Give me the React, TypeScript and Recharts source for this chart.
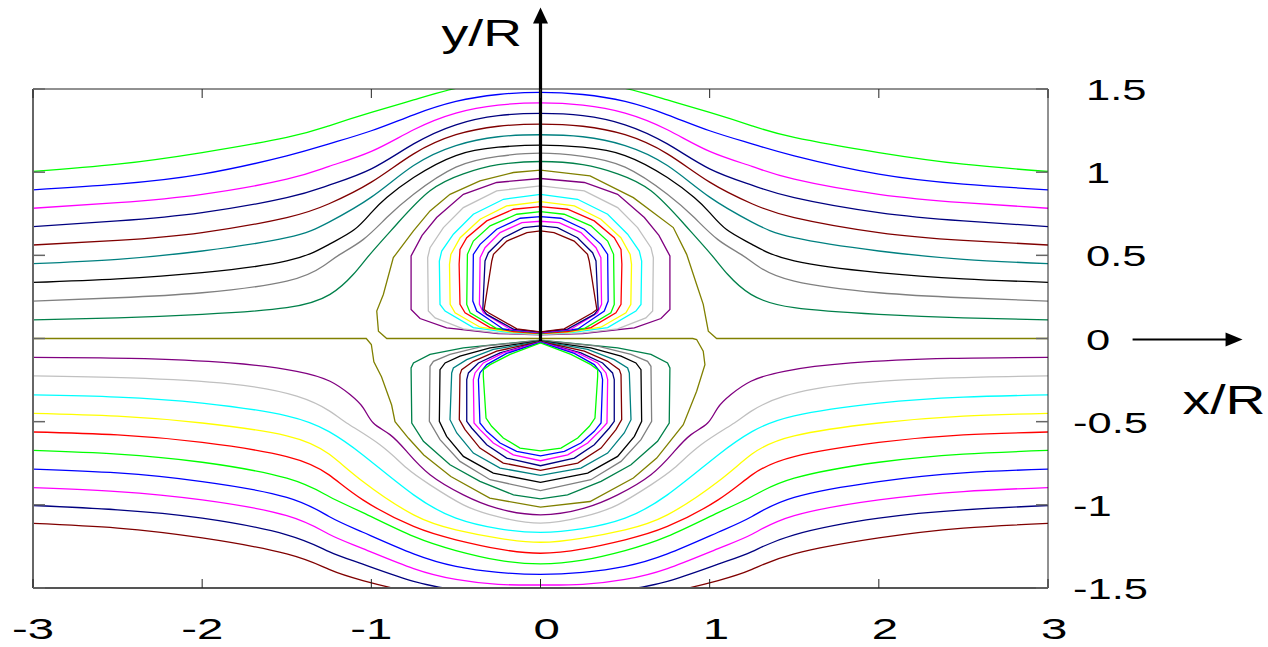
import { LineChart, Line, XAxis, YAxis, ReferenceLine } from 'recharts'

const xTicks = [-3, -2, -1, 0, 1, 2, 3]
const yTicks = [-1.5, -1, -0.5, 0, 0.5, 1, 1.5]

// streamlines above the axis that run right through (x, y)
const upGreen = [[-3,1.004],[-2.5,1.048],[-2,1.118],[-1.5,1.209],[-1.25,1.279],[-1,1.359],[-0.75,1.434],[-0.5,1.504],[-0.25,1.54],[0,1.555],[0.25,1.54],[0.5,1.504],[0.75,1.434],[1,1.359],[1.25,1.279],[1.5,1.209],[2,1.118],[2.5,1.048],[3,1.004]]
const upBlue = [[-3,0.894],[-2.5,0.928],[-2,0.988],[-1.5,1.098],[-1.25,1.17],[-1,1.249],[-0.75,1.345],[-0.5,1.425],[-0.25,1.467],[0,1.48],[0.25,1.467],[0.5,1.425],[0.75,1.345],[1,1.249],[1.25,1.17],[1.5,1.098],[2,0.988],[2.5,0.928],[3,0.894]]
const upMagenta = [[-3,0.783],[-2.5,0.817],[-2,0.867],[-1.5,0.958],[-1.25,1.035],[-1,1.125],[-0.75,1.255],[-0.5,1.355],[-0.25,1.403],[0,1.416],[0.25,1.403],[0.5,1.355],[0.75,1.255],[1,1.125],[1.25,1.035],[1.5,0.958],[2,0.867],[2.5,0.817],[3,0.783]]
const upNavy = [[-3,0.673],[-2.5,0.707],[-2,0.757],[-1.5,0.847],[-1.25,0.922],[-1,1.02],[-0.75,1.17],[-0.5,1.285],[-0.25,1.34],[0,1.353],[0.25,1.34],[0.5,1.285],[0.75,1.17],[1,1.02],[1.25,0.922],[1.5,0.847],[2,0.757],[2.5,0.707],[3,0.673]]
const upBrown = [[-3,0.562],[-2.5,0.59],[-2,0.637],[-1.5,0.727],[-1.25,0.81],[-1,0.94],[-0.75,1.11],[-0.5,1.225],[-0.25,1.276],[0,1.289],[0.25,1.276],[0.5,1.225],[0.75,1.11],[1,0.94],[1.25,0.81],[1.5,0.727],[2,0.637],[2.5,0.59],[3,0.562]]
const upTeal = [[-3,0.45],[-2.5,0.476],[-2,0.526],[-1.5,0.606],[-1.25,0.7],[-1,0.85],[-0.75,1.04],[-0.5,1.16],[-0.25,1.213],[0,1.225],[0.25,1.213],[0.5,1.16],[0.75,1.04],[1,0.85],[1.25,0.7],[1.5,0.606],[2,0.526],[2.5,0.476],[3,0.45]]
const upBlack = [[-3,0.337],[-2.5,0.359],[-2,0.396],[-1.5,0.466],[-1.25,0.566],[-1.1,0.655],[-1,0.757],[-0.909,0.847],[-0.75,0.968],[-0.5,1.1],[-0.25,1.15],[0,1.163],[0.25,1.15],[0.5,1.1],[0.75,0.968],[0.909,0.847],[1,0.757],[1.1,0.655],[1.25,0.566],[1.5,0.466],[2,0.396],[2.5,0.359],[3,0.337]]
const upGray = [[-3,0.225],[-2.5,0.245],[-2,0.275],[-1.5,0.345],[-1.284,0.436],[-1.185,0.506],[-1.047,0.596],[-0.909,0.727],[-0.75,0.867],[-0.5,1.03],[-0.25,1.095],[0,1.114],[0.25,1.095],[0.5,1.03],[0.75,0.867],[0.909,0.727],[1.047,0.596],[1.185,0.506],[1.284,0.436],[1.5,0.345],[2,0.275],[2.5,0.245],[3,0.225]]
const upSea = [[-3,0.112],[-2.5,0.124],[-2,0.145],[-1.5,0.185],[-1.244,0.265],[-1.106,0.386],[-1.008,0.506],[-0.85,0.687],[-0.653,0.888],[-0.456,0.99],[-0.25,1.045],[0,1.064],[0.25,1.045],[0.456,0.99],[0.653,0.888],[0.85,0.687],[1.008,0.506],[1.106,0.386],[1.244,0.265],[1.5,0.185],[2,0.145],[2.5,0.124],[3,0.112]]

// the zero streamline: axis, lower ring, back along axis, upper ring, axis
const zeroLine = [[-3,0],[-1.03,0],[-1,-0.036],[-0.985,-0.14],[-0.94,-0.23],[-0.88,-0.4],[-0.86,-0.5],[-0.78,-0.6],[-0.69,-0.7],[-0.53,-0.83],[-0.3,-0.96],[0,-1.014],[0.293,-0.98],[0.549,-0.839],[0.687,-0.719],[0.844,-0.518],[0.923,-0.317],[0.972,-0.157],[0.962,-0.076],[0.923,-0.006],[0.9,0],[0,0],[-0.909,0],[-0.958,0.044],[-0.968,0.165],[-0.929,0.265],[-0.87,0.486],[-0.751,0.647],[-0.653,0.767],[-0.535,0.867],[-0.358,0.948],[-0.16,0.998],[0,1.012],[0.293,0.978],[0.549,0.847],[0.785,0.667],[0.864,0.506],[0.923,0.325],[0.962,0.205],[0.992,0.044],[1.041,0],[3,0]]

// streamlines below the axis that run right through
const loPurple = [[-3,-0.114],[-2.426,-0.12],[-1.835,-0.147],[-1.441,-0.197],[-1.244,-0.257],[-1.126,-0.337],[-1.047,-0.418],[-0.988,-0.508],[-0.89,-0.578],[-0.791,-0.679],[-0.653,-0.819],[-0.456,-0.94],[-0.259,-1.02],[0,-1.06],[0.259,-1.02],[0.456,-0.94],[0.653,-0.819],[0.791,-0.679],[0.89,-0.578],[0.988,-0.508],[1.047,-0.418],[1.126,-0.337],[1.244,-0.257],[1.441,-0.197],[1.835,-0.147],[2.426,-0.12],[3,-0.114]]
const loSilver = [[-3,-0.225],[-2.426,-0.237],[-1.835,-0.273],[-1.441,-0.347],[-1.244,-0.438],[-1.146,-0.508],[-0.949,-0.639],[-0.791,-0.779],[-0.653,-0.88],[-0.456,-1.0],[-0.259,-1.07],[0,-1.11],[0.259,-1.07],[0.456,-1.0],[0.653,-0.88],[0.791,-0.779],[0.949,-0.639],[1.146,-0.508],[1.244,-0.438],[1.441,-0.347],[1.835,-0.273],[2.426,-0.237],[3,-0.225]]
const loCyan = [[-3,-0.339],[-2.5,-0.352],[-2,-0.388],[-1.5,-0.465],[-1.25,-0.56],[-1.05,-0.7],[-0.75,-0.94],[-0.5,-1.08],[-0.25,-1.143],[0,-1.165],[0.25,-1.143],[0.5,-1.08],[0.75,-0.94],[1.05,-0.7],[1.25,-0.56],[1.5,-0.465],[2,-0.388],[2.5,-0.352],[3,-0.339]]
const loYellow = [[-3,-0.45],[-2.5,-0.467],[-2,-0.508],[-1.5,-0.585],[-1.25,-0.695],[-1.05,-0.86],[-0.75,-1.06],[-0.5,-1.15],[-0.25,-1.2],[0,-1.225],[0.25,-1.2],[0.5,-1.15],[0.75,-1.06],[1.05,-0.86],[1.25,-0.695],[1.5,-0.585],[2,-0.508],[2.5,-0.467],[3,-0.45]]
const loRed = [[-3,-0.562],[-2.5,-0.58],[-2,-0.625],[-1.5,-0.71],[-1.25,-0.82],[-1.05,-0.97],[-0.75,-1.13],[-0.5,-1.21],[-0.25,-1.265],[0,-1.291],[0.25,-1.265],[0.5,-1.21],[0.75,-1.13],[1.05,-0.97],[1.25,-0.82],[1.5,-0.71],[2,-0.625],[2.5,-0.58],[3,-0.562]]
const loGreen = [[-3,-0.673],[-2.5,-0.695],[-2,-0.744],[-1.5,-0.84],[-1.25,-0.95],[-1.05,-1.047],[-0.75,-1.19],[-0.5,-1.275],[-0.25,-1.333],[0,-1.355],[0.25,-1.333],[0.5,-1.275],[0.75,-1.19],[1.05,-1.047],[1.25,-0.95],[1.5,-0.84],[2,-0.744],[2.5,-0.695],[3,-0.673]]
const loBlue = [[-3,-0.785],[-2.5,-0.808],[-2,-0.86],[-1.5,-0.955],[-1.25,-1.07],[-1.05,-1.165],[-0.75,-1.295],[-0.5,-1.37],[-0.25,-1.406],[0,-1.418],[0.25,-1.406],[0.5,-1.37],[0.75,-1.295],[1.05,-1.165],[1.25,-1.07],[1.5,-0.955],[2,-0.86],[2.5,-0.808],[3,-0.785]]
const loMagenta = [[-3,-0.896],[-2.5,-0.92],[-2,-0.97],[-1.5,-1.065],[-1.25,-1.177],[-1.05,-1.263],[-0.75,-1.383],[-0.5,-1.448],[-0.25,-1.478],[0,-1.482],[0.25,-1.478],[0.5,-1.448],[0.75,-1.383],[1.05,-1.263],[1.25,-1.177],[1.5,-1.065],[2,-0.97],[2.5,-0.92],[3,-0.896]]
const loNavy = [[-3,-1.004],[-2.5,-1.03],[-2,-1.08],[-1.5,-1.18],[-1.25,-1.281],[-1.05,-1.357],[-0.75,-1.46],[-0.5,-1.51],[-0.25,-1.54],[0,-1.55],[0.25,-1.54],[0.5,-1.51],[0.75,-1.46],[1.05,-1.357],[1.25,-1.281],[1.5,-1.18],[2,-1.08],[2.5,-1.03],[3,-1.004]]
const loBrown = [[-3,-1.112],[-2.5,-1.14],[-2,-1.199],[-1.5,-1.295],[-1.25,-1.388],[-1.05,-1.455],[-0.75,-1.53],[-0.5,-1.58],[-0.25,-1.61],[0,-1.62],[0.25,-1.61],[0.5,-1.58],[0.75,-1.53],[1.05,-1.455],[1.25,-1.388],[1.5,-1.295],[2,-1.199],[2.5,-1.14],[3,-1.112]]

// closed streamlines of the upper cell, outer to inner
const ringPurple = [[0,0.022],[-0.25,0.03],[-0.555,0.064],[-0.712,0.12],[-0.765,0.175],[-0.765,0.496],[-0.7,0.62],[-0.614,0.727],[-0.456,0.867],[-0.259,0.938],[0,0.962],[0.259,0.938],[0.456,0.867],[0.614,0.727],[0.7,0.62],[0.765,0.496],[0.765,0.175],[0.712,0.12],[0.555,0.064],[0.25,0.03],[0,0.022]]
const ringSilver = [[0,0.024],[-0.25,0.034],[-0.456,0.058],[-0.623,0.124],[-0.663,0.165],[-0.667,0.486],[-0.653,0.546],[-0.574,0.667],[-0.456,0.787],[-0.259,0.888],[0,0.918],[0.259,0.888],[0.456,0.787],[0.574,0.667],[0.653,0.546],[0.667,0.486],[0.663,0.165],[0.623,0.124],[0.456,0.058],[0.25,0.034],[0,0.024]]
const ringCyan = [[0,0.026],[-0.2,0.038],[-0.397,0.066],[-0.564,0.165],[-0.594,0.205],[-0.598,0.466],[-0.584,0.526],[-0.515,0.627],[-0.397,0.747],[-0.219,0.837],[0,0.867],[0.219,0.837],[0.397,0.747],[0.515,0.627],[0.584,0.526],[0.598,0.466],[0.594,0.205],[0.564,0.165],[0.397,0.066],[0.2,0.038],[0,0.026]]
const ringYellow = [[0,0.028],[-0.18,0.04],[-0.357,0.068],[-0.505,0.155],[-0.534,0.205],[-0.538,0.446],[-0.53,0.506],[-0.475,0.606],[-0.357,0.717],[-0.2,0.797],[0,0.823],[0.2,0.797],[0.357,0.717],[0.475,0.606],[0.53,0.506],[0.538,0.446],[0.534,0.205],[0.505,0.155],[0.357,0.068],[0.18,0.04],[0,0.028]]
const ringRed = [[0,0.03],[-0.16,0.042],[-0.298,0.066],[-0.446,0.155],[-0.476,0.205],[-0.481,0.446],[-0.476,0.536],[-0.436,0.606],[-0.318,0.707],[-0.16,0.777],[0,0.793],[0.16,0.777],[0.318,0.707],[0.436,0.606],[0.476,0.536],[0.481,0.446],[0.476,0.205],[0.446,0.155],[0.298,0.066],[0.16,0.042],[0,0.03]]
const ringGreen = [[0,0.032],[-0.259,0.06],[-0.416,0.155],[-0.436,0.205],[-0.432,0.506],[-0.397,0.586],[-0.298,0.677],[-0.14,0.747],[0,0.763],[0.14,0.747],[0.298,0.677],[0.397,0.586],[0.432,0.506],[0.436,0.205],[0.416,0.155],[0.259,0.06],[0,0.032]]
const ringBlue = [[0,0.034],[-0.219,0.056],[-0.377,0.165],[-0.4,0.225],[-0.397,0.506],[-0.357,0.566],[-0.259,0.657],[-0.12,0.723],[0,0.733],[0.12,0.723],[0.259,0.657],[0.357,0.566],[0.397,0.506],[0.4,0.225],[0.377,0.165],[0.219,0.056],[0,0.034]]
const ringMagenta = [[0,0.036],[-0.18,0.056],[-0.337,0.155],[-0.361,0.205],[-0.357,0.486],[-0.328,0.546],[-0.239,0.637],[-0.11,0.697],[0,0.705],[0.11,0.697],[0.239,0.637],[0.328,0.546],[0.357,0.486],[0.361,0.205],[0.337,0.155],[0.18,0.056],[0,0.036]]
const ringNavy = [[0,0.038],[-0.16,0.056],[-0.318,0.145],[-0.341,0.175],[-0.328,0.466],[-0.308,0.516],[-0.219,0.606],[-0.1,0.667],[0,0.677],[0.1,0.667],[0.219,0.606],[0.308,0.516],[0.328,0.466],[0.341,0.175],[0.318,0.145],[0.16,0.056],[0,0.038]]
const ringBrown = [[0,0.04],[-0.14,0.058],[-0.308,0.155],[-0.333,0.175],[-0.288,0.466],[-0.278,0.506],[-0.199,0.586],[-0.08,0.637],[0,0.647],[0.08,0.637],[0.199,0.586],[0.278,0.506],[0.288,0.466],[0.333,0.175],[0.308,0.155],[0.14,0.058],[0,0.04]]

// closed streamlines of the lower cell, outer to inner
const cellSea = [[0,-0.01],[-0.456,-0.056],[-0.653,-0.096],[-0.751,-0.147],[-0.765,-0.177],[-0.761,-0.508],[-0.692,-0.618],[-0.535,-0.759],[-0.358,-0.859],[-0.16,-0.94],[0,-0.964],[0.16,-0.94],[0.358,-0.859],[0.535,-0.759],[0.692,-0.618],[0.761,-0.508],[0.765,-0.177],[0.751,-0.147],[0.653,-0.096],[0.456,-0.056],[0,-0.01]]
const cellGray = [[0,-0.012],[-0.338,-0.046],[-0.535,-0.096],[-0.633,-0.137],[-0.653,-0.167],[-0.657,-0.498],[-0.594,-0.608],[-0.476,-0.739],[-0.298,-0.849],[0,-0.914],[0.298,-0.849],[0.476,-0.739],[0.594,-0.608],[0.657,-0.498],[0.653,-0.167],[0.633,-0.137],[0.535,-0.096],[0.338,-0.046],[0,-0.012]]
const cellBlack = [[0,-0.014],[-0.298,-0.056],[-0.476,-0.106],[-0.564,-0.147],[-0.594,-0.187],[-0.598,-0.498],[-0.555,-0.588],[-0.456,-0.709],[-0.279,-0.809],[0,-0.865],[0.279,-0.809],[0.456,-0.709],[0.555,-0.588],[0.598,-0.498],[0.594,-0.187],[0.564,-0.147],[0.476,-0.106],[0.298,-0.056],[0,-0.014]]
const cellTeal = [[0,-0.016],[-0.279,-0.066],[-0.436,-0.127],[-0.515,-0.177],[-0.525,-0.207],[-0.535,-0.488],[-0.495,-0.568],[-0.397,-0.689],[-0.239,-0.779],[0,-0.823],[0.239,-0.779],[0.397,-0.689],[0.495,-0.568],[0.535,-0.488],[0.525,-0.207],[0.515,-0.177],[0.436,-0.127],[0.279,-0.066],[0,-0.016]]
const cellBrown = [[0,-0.018],[-0.259,-0.076],[-0.397,-0.137],[-0.466,-0.187],[-0.476,-0.217],[-0.48,-0.488],[-0.446,-0.548],[-0.358,-0.659],[-0.22,-0.749],[0,-0.793],[0.22,-0.749],[0.358,-0.659],[0.446,-0.548],[0.48,-0.488],[0.476,-0.217],[0.466,-0.187],[0.397,-0.137],[0.259,-0.076],[0,-0.018]]
const cellNavy = [[0,-0.02],[-0.239,-0.086],[-0.367,-0.147],[-0.426,-0.207],[-0.436,-0.247],[-0.436,-0.498],[-0.407,-0.538],[-0.318,-0.639],[-0.2,-0.719],[0,-0.765],[0.2,-0.719],[0.318,-0.639],[0.407,-0.538],[0.436,-0.498],[0.436,-0.247],[0.426,-0.207],[0.367,-0.147],[0.239,-0.086],[0,-0.02]]
const cellMagenta = [[0,-0.022],[-0.22,-0.086],[-0.338,-0.147],[-0.387,-0.207],[-0.397,-0.247],[-0.393,-0.508],[-0.358,-0.548],[-0.279,-0.628],[-0.161,-0.699],[0,-0.735],[0.161,-0.699],[0.279,-0.628],[0.358,-0.548],[0.393,-0.508],[0.397,-0.247],[0.387,-0.207],[0.338,-0.147],[0.22,-0.086],[0,-0.022]]
const cellBlue = [[0,-0.024],[-0.2,-0.09],[-0.318,-0.157],[-0.358,-0.207],[-0.367,-0.247],[-0.358,-0.508],[-0.318,-0.558],[-0.239,-0.628],[-0.141,-0.679],[0,-0.705],[0.141,-0.679],[0.239,-0.628],[0.318,-0.558],[0.358,-0.508],[0.367,-0.247],[0.358,-0.207],[0.318,-0.157],[0.2,-0.09],[0,-0.024]]
const cellGreen = [[0,-0.026],[-0.18,-0.096],[-0.298,-0.157],[-0.338,-0.187],[-0.338,-0.227],[-0.322,-0.478],[-0.289,-0.528],[-0.22,-0.598],[-0.121,-0.659],[0,-0.675],[0.121,-0.659],[0.22,-0.598],[0.289,-0.528],[0.322,-0.478],[0.338,-0.227],[0.338,-0.187],[0.298,-0.157],[0.18,-0.096],[0,-0.026]]

const GREEN = '#00ff00', BLUE = '#0000ff', MAGENTA = '#ff00ff', NAVY = '#000080', BROWN = '#800000'
const TEAL = '#008080', BLACK = '#000000', GRAY = '#808080', SEA = '#00804a', OLIVE = '#808000'
const PURPLE = '#800080', SILVER = '#c0c0c0', CYAN = '#00ffff', YELLOW = '#ffff00', RED = '#ff0000'

const series: [string, number[][], string, 'natural' | 'linear'][] = [
  ['upGreen', upGreen, GREEN, 'natural'],
  ['upBlue', upBlue, BLUE, 'natural'],
  ['upMagenta', upMagenta, MAGENTA, 'natural'],
  ['upNavy', upNavy, NAVY, 'natural'],
  ['upBrown', upBrown, BROWN, 'natural'],
  ['upTeal', upTeal, TEAL, 'natural'],
  ['upBlack', upBlack, BLACK, 'natural'],
  ['upGray', upGray, GRAY, 'natural'],
  ['upSea', upSea, SEA, 'natural'],
  ['zero', zeroLine, OLIVE, 'linear'],
  ['loPurple', loPurple, PURPLE, 'natural'],
  ['loSilver', loSilver, SILVER, 'natural'],
  ['loCyan', loCyan, CYAN, 'natural'],
  ['loYellow', loYellow, YELLOW, 'natural'],
  ['loRed', loRed, RED, 'natural'],
  ['loGreen', loGreen, GREEN, 'natural'],
  ['loBlue', loBlue, BLUE, 'natural'],
  ['loMagenta', loMagenta, MAGENTA, 'natural'],
  ['loNavy', loNavy, NAVY, 'natural'],
  ['loBrown', loBrown, BROWN, 'natural'],
  ['ringPurple', ringPurple, PURPLE, 'linear'],
  ['ringSilver', ringSilver, SILVER, 'linear'],
  ['ringCyan', ringCyan, CYAN, 'linear'],
  ['ringYellow', ringYellow, YELLOW, 'linear'],
  ['ringRed', ringRed, RED, 'linear'],
  ['ringGreen', ringGreen, GREEN, 'linear'],
  ['ringBlue', ringBlue, BLUE, 'linear'],
  ['ringMagenta', ringMagenta, MAGENTA, 'linear'],
  ['ringNavy', ringNavy, NAVY, 'linear'],
  ['ringBrown', ringBrown, BROWN, 'linear'],
  ['cellSea', cellSea, SEA, 'linear'],
  ['cellGray', cellGray, GRAY, 'linear'],
  ['cellBlack', cellBlack, BLACK, 'linear'],
  ['cellTeal', cellTeal, TEAL, 'linear'],
  ['cellBrown', cellBrown, BROWN, 'linear'],
  ['cellNavy', cellNavy, NAVY, 'linear'],
  ['cellMagenta', cellMagenta, MAGENTA, 'linear'],
  ['cellBlue', cellBlue, BLUE, 'linear'],
  ['cellGreen', cellGreen, GREEN, 'linear'],
]

const W = 1268
const H = 647
const TOP = 89
const LEFT = 33
const AXIS_R = 220
const AXIS_B = 59
const PLOT_R = W - AXIS_R
const PLOT_B = H - AXIS_B
const FONT = '"Liberation Sans", Arial, sans-serif'

const toXY = (pts: number[][]) => pts.map(([x, y]) => ({ x, y }))

function XTick(props: any) {
  const { x, payload } = props
  const v = payload.value
  const dx = v < 0 ? -21 : -7
  return (
    <g>
      <line x1={x} x2={x} y1={PLOT_B} y2={PLOT_B - 9} stroke="#222" />
      <line x1={x} x2={x} y1={TOP} y2={TOP + 9} stroke="#222" />
      <text transform={`translate(${x + dx},639) scale(1.58,1)`} fontSize={30} fontFamily={FONT} fill="#000">
        {String(v)}
      </text>
    </g>
  )
}

function YTick(props: any) {
  const { y, payload } = props
  const v = payload.value
  const x0 = v < 0 ? 1073 : 1086
  return (
    <g>
      <line x1={LEFT} x2={LEFT + 12} y1={y} y2={y} stroke="#666" strokeWidth={1.5} />
      <line x1={PLOT_R - 12} x2={PLOT_R} y1={y} y2={y} stroke="#666" strokeWidth={1.5} />
      <text transform={`translate(${x0},${y + 11}) scale(1.45,1)`} fontSize={30} fontFamily={FONT} fill="#000">
        {String(v)}
      </text>
    </g>
  )
}

function YArrow(p: any) {
  const { x1, y1, x2, y2 } = p
  return (
    <g>
      <line x1={x1} y1={y1} x2={x2} y2={y2 + 14} stroke="#000" strokeWidth={3.2} />
      <polygon points={`${x2},${y2} ${x2 - 7.5},${y2 + 16} ${x2 + 7.5},${y2 + 16}`} fill="#000" />
      <text transform={`translate(${x2 - 99},${y2 + 39}) scale(1.45,1)`} fontSize={37} fontFamily={FONT} fill="#000">
        y/R
      </text>
    </g>
  )
}

function XArrow(p: any) {
  const { x1, y1, x2, y2 } = p
  return (
    <g>
      <line x1={x1} y1={y1} x2={x2 - 15} y2={y2} stroke="#000" strokeWidth={2} />
      <polygon points={`${x2},${y2} ${x2 - 17},${y2 - 7} ${x2 - 17},${y2 + 7}`} fill="#000" />
      <text transform={`translate(${x2 - 60},${y2 + 75}) scale(1.38,1)`} fontSize={40} fontFamily={FONT} fill="#000">
        x/R
      </text>
    </g>
  )
}

export default function App() {
  return (
    <div style={{ position: 'absolute', left: 0, top: 0, width: W, height: H, background: '#fff' }}>
      <LineChart width={W} height={H} margin={{ top: TOP, left: LEFT, right: 0, bottom: 0 }}>
        <XAxis
          dataKey="x"
          type="number"
          domain={[-3, 3]}
          ticks={xTicks}
          height={AXIS_B}
          axisLine={false}
          tickLine={false}
          tick={<XTick />}
          allowDataOverflow
        />
        <YAxis
          type="number"
          orientation="right"
          domain={[-1.5, 1.5]}
          ticks={yTicks}
          width={AXIS_R}
          axisLine={false}
          tickLine={false}
          tick={<YTick />}
          allowDataOverflow
        />
        {series.map(([name, pts, color, kind]) => (
          <Line
            key={name}
            data={toXY(pts)}
            dataKey="y"
            type={kind}
            stroke={color}
            strokeWidth={1.3}
            dot={false}
            activeDot={false}
            isAnimationActive={false}
          />
        ))}
        <ReferenceLine y={1.5} stroke="#222" strokeWidth={1} ifOverflow="visible" />
        <ReferenceLine x={3} stroke="#222" strokeWidth={1} ifOverflow="visible" />
        <ReferenceLine x={-3} stroke="#666" strokeWidth={2} ifOverflow="visible" />
        <ReferenceLine y={-1.5} stroke="#555" strokeWidth={2} ifOverflow="visible" />
        <ReferenceLine
          segment={[{ x: 0, y: -0.015 }, { x: 0, y: 1.99 }]}
          ifOverflow="visible"
          shape={YArrow}
        />
        <ReferenceLine
          segment={[{ x: 3.5, y: -0.006 }, { x: 4.15, y: -0.006 }]}
          ifOverflow="visible"
          shape={XArrow}
        />
      </LineChart>
    </div>
  )
}
